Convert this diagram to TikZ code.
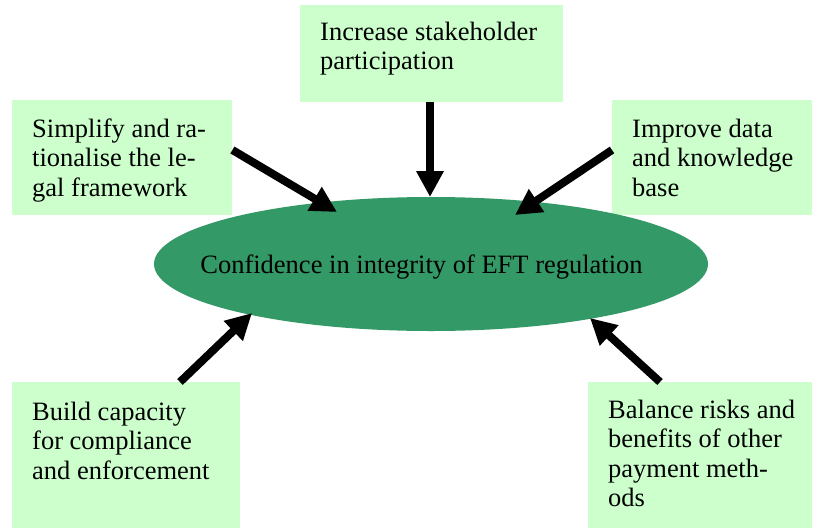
\documentclass[tikz,border=0pt]{standalone}
\usepackage{fontspec}
\setmainfont{Liberation Serif}
\usetikzlibrary{arrows.meta,shapes.geometric,calc}
\definecolor{boxgreen}{HTML}{CCFFCC}
\definecolor{ellgreen}{HTML}{339966}
\tikzset{
  box/.style={fill=boxgreen, draw=none, rectangle, anchor=north west, inner sep=0pt},
  lbl/.style={anchor=base west, align=left, inner sep=0pt, font=\fontsize{26.5}{29.5}\selectfont},
  arr/.style={line width=8pt, -{Triangle[length=26pt,width=26pt]}},
}
\begin{document}
\begin{tikzpicture}[x=1pt,y=-1pt]
\useasboundingbox (0,0) rectangle (818,530);
% boxes
\node[box, minimum width=263pt, minimum height=97pt] (top) at (300,5) {};
\node[box, minimum width=220pt, minimum height=115pt] (lt) at (12,100) {};
\node[box, minimum width=200pt, minimum height=115pt] (rt) at (612,100) {};
\node[box, minimum width=228pt, minimum height=146pt] (lb) at (12,382) {};
\node[box, minimum width=224pt, minimum height=146pt] (rb) at (588,382) {};
% ellipse
\node[ellipse, fill=ellgreen, minimum width=554pt, minimum height=134pt, inner sep=0pt] (e) at (431,264) {};
% labels (anchored at the baseline of the last line)
\node[lbl] (ttop) at (320,69.5) {Increase stakeholder\\participation};
\node[lbl] (tlt) at (32,196) {Simplify and ra-\\tionalise the le-\\gal framework};
\node[lbl] (trt) at (632,196) {Improve data\\and knowledge\\base};
\node[lbl] (tlb) at (32,479) {Build capacity\\for compliance\\and enforcement};
\node[lbl] (trb) at (608,506.5) {Balance risks and\\benefits of other\\payment meth-\\ods};
\node[anchor=base, inner sep=0pt, font=\fontsize{26.5}{29.5}\selectfont] (te) at (421.5,273) {Confidence in integrity of EFT regulation};
% arrows
\draw[arr] ($(top.south west)+(130,0)$) -- ($(e.center)+(-1,-67)$);
\draw[arr] ($(lt.north east)+(0,50)$) -- ($(e.center)+(-94,-52)$);
\draw[arr] ($(rt.north west)+(0,50)$) -- ($(e.center)+(84,-49)$);
\draw[arr] ($(lb.north west)+(168,0)$) -- ($(e.center)+(-179,49)$);
\draw[arr] ($(rb.north west)+(72,0)$) -- ($(e.center)+(159,54)$);
\end{tikzpicture}
\end{document}
